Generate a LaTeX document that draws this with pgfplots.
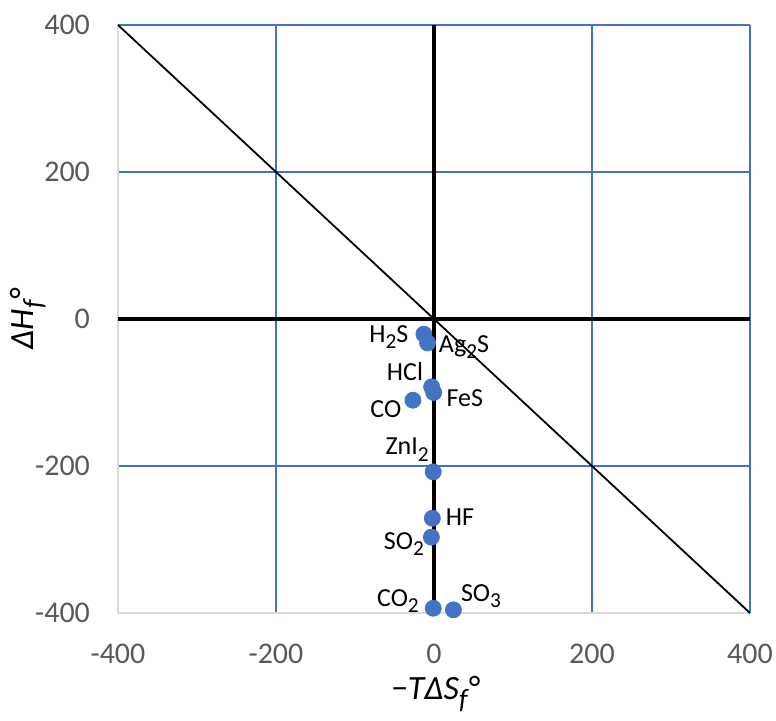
\documentclass[border=0pt]{standalone}
\usepackage{pgfplots}
\pgfplotsset{compat=1.18}
\usepackage{fontspec}
\setmainfont{Carlito}
\definecolor{gridblue}{HTML}{4472C4}
\definecolor{ptblue}{HTML}{4472C4}
\definecolor{ticklbl}{HTML}{595959}
\definecolor{axgray}{HTML}{D9D9D9}
\newcommand\sub[1]{\raisebox{-0.25em}{\scalebox{0.82}{#1}}}
\begin{document}
\begin{tikzpicture}
\path[use as bounding box] (-59pt,-54pt) rectangle (329pt,306.5pt);
\begin{axis}[
  at={(0pt,0pt)}, anchor=south west,
  scale only axis, width=316pt, height=294pt,
  xmin=-400, xmax=400, ymin=-400, ymax=400,
  xtick={-400,-200,0,200,400}, ytick={-400,-200,0,200,400},
  xticklabels={-400,-200,0,200,400}, yticklabels={-400,-200,0,200,400},
  grid=major, grid style={gridblue, line width=0.6pt}, major grid style={gridblue, line width=0.6pt},
  axis x line*=bottom, axis y line*=left,
  axis line style={axgray, line width=0.6pt, -},
  tick style={draw=none},
  ticklabel style={font=\fontsize{15}{17}\selectfont, text=ticklbl},
  xticklabel style={yshift=-12pt},
  yticklabel style={xshift=-10.5pt},
  clip=false,
]
% data points: -T dS_f (x), dH_f (y)
\addplot[only marks, mark=*, mark size=4pt, ptblue, mark options={draw=ptblue, fill=ptblue}] coordinates {
  (-12.8,-20.6)   % H2S
  (-8.1,-32.6)    % Ag2S
  (-3.0,-92.3)    % HCl
  (-0.4,-100.0)   % FeS
  (-26.7,-110.5)  % CO
  (-1.0,-208.0)   % ZnI2
  (-2.1,-271.1)   % HF
  (-3.3,-296.8)   % SO2
  (-0.9,-393.5)   % CO2
  (24.6,-395.7)   % SO3
};
\addplot[black, line width=2.2pt] coordinates {(0,-400) (0,400)};
\addplot[black, line width=2.2pt] coordinates {(-400,0) (400,0)};
\addplot[black, line width=0.9pt] coordinates {(-400,400) (400,-400)};
\begin{scope}[every node/.style={font=\fontsize{13}{15}\selectfont, text=black, inner sep=0pt}]
\node at (axis cs:-57,-24.5) {H\sub{2}S};
\node at (axis cs:38,-38) {Ag\sub{2}S};
\node at (axis cs:-36.7,-72) {HCl};
\node at (axis cs:39,-107.5) {FeS};
\node at (axis cs:-61,-122) {CO};
\node at (axis cs:-34,-178) {ZnI\sub{2}};
\node at (axis cs:33,-269) {HF};
\node at (axis cs:-38,-306) {SO\sub{2}};
\node at (axis cs:-45.6,-383.7) {CO\sub{2}};
\node at (axis cs:59.5,-377) {SO\sub{3}};
\end{scope}
\end{axis}
\node[anchor=base, rotate=90, font=\fontsize{17}{19}\selectfont\itshape, inner sep=0pt] at (-42pt,147pt) {ΔH\sub{f}°};
\node[anchor=base, font=\fontsize{17}{19}\selectfont\itshape, inner sep=0pt] at (158.5pt,-43.5pt) {−TΔS\sub{f}°};
\end{tikzpicture}
\end{document}
